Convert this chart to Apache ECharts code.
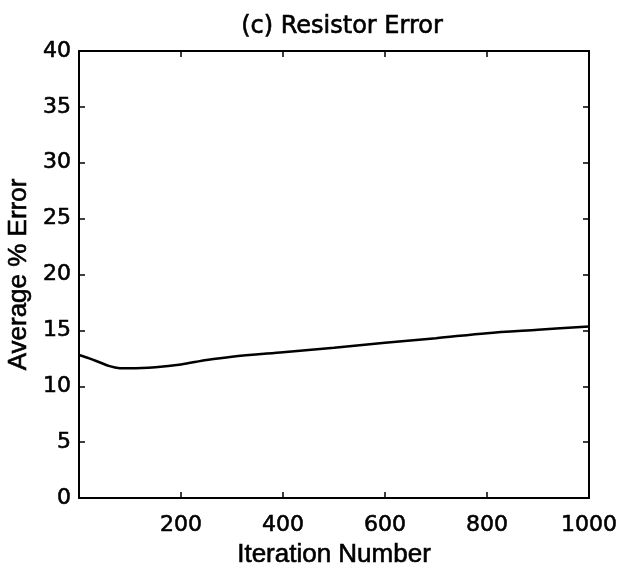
<!DOCTYPE html>
<html>
<head>
<meta charset="utf-8">
<script src="https://cdn.jsdelivr.net/npm/echarts@6/dist/echarts.min.js"></script>
<style>html,body{margin:0;padding:0;background:#fff;}#c{width:621px;height:573px;}</style>
</head>
<body>
<div id="c"></div>
<script>
var iterations = [0, 20, 40, 60, 80, 100, 150, 200, 250, 300, 400, 500, 600, 700, 800, 900, 1000];
var avgError = [12.8, 12.5, 12.15, 11.8, 11.62, 11.6, 11.7, 11.95, 12.35, 12.65, 13.05, 13.45, 13.9, 14.3, 14.75, 15.05, 15.35];
var titleText = '(c) Resistor Error';
var xName = 'Iteration Number';
var yName = 'Average % Error';

var tickFont = 'DejaVu Sans, sans-serif';
var nameFont = 'Liberation Sans, Arial, Helvetica, sans-serif';
var chart = echarts.init(document.getElementById('c'));
var data = iterations.map(function (x, i) { return [x, avgError[i]]; });
var axLine = { show: true, onZero: false, lineStyle: { color: '#000', width: 2 } };
var axTick = { show: true, inside: true, length: 6, lineStyle: { color: '#000', width: 1.5 } };
var heavy = { textBorderColor: '#000', textBorderWidth: 0.6 };
chart.setOption({
  animation: false,
  backgroundColor: '#fff',
  title: { text: titleText, left: 337, top: 10, textAlign: 'center',
    textStyle: Object.assign({ fontFamily: tickFont, fontSize: 24, fontWeight: 'normal', color: '#000' }, heavy) },
  grid: { left: 79, right: 32, top: 51, bottom: 75, containLabel: false, outerBoundsMode: 'none' },
  xAxis: [{
    type: 'value', min: 0, max: 1000, interval: 200,
    name: xName, nameLocation: 'middle', nameGap: 41,
    nameTextStyle: Object.assign({ fontFamily: nameFont, fontSize: 26, color: '#000' }, heavy),
    axisLine: axLine, axisTick: axTick,
    axisLabel: Object.assign({ fontFamily: tickFont, fontSize: 22, color: '#000', margin: 16,
      formatter: function (v) { return v === 0 ? '' : v; } }, heavy),
    splitLine: { show: false }
  }, {
    type: 'value', min: 0, max: 1000, interval: 200, position: 'top',
    axisLine: axLine, axisTick: axTick,
    axisLabel: { show: false }, splitLine: { show: false }
  }],
  yAxis: [{
    type: 'value', min: 0, max: 40, interval: 5,
    name: yName, nameLocation: 'middle', nameGap: 43,
    nameTextStyle: Object.assign({ fontFamily: nameFont, fontSize: 26, color: '#000' }, heavy),
    axisLine: axLine, axisTick: axTick,
    axisLabel: Object.assign({ fontFamily: tickFont, fontSize: 22, color: '#000', margin: 8 }, heavy),
    splitLine: { show: false }
  }, {
    type: 'value', min: 0, max: 40, interval: 5, position: 'right',
    axisLine: axLine, axisTick: axTick,
    axisLabel: { show: false }, splitLine: { show: false }
  }],
  series: [{
    type: 'line', data: data, smooth: 0.3, showSymbol: false,
    xAxisIndex: 0, yAxisIndex: 0,
    lineStyle: { color: '#000', width: 2.5 }
  }]
});
</script>
</body>
</html>
